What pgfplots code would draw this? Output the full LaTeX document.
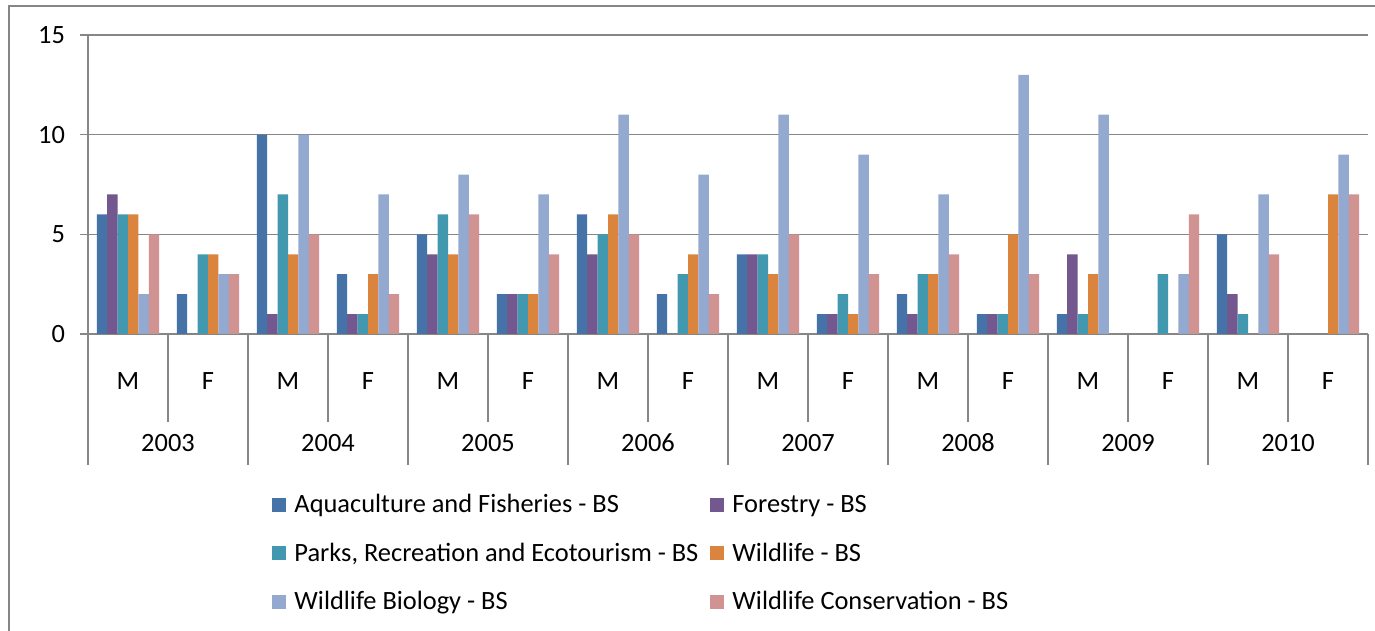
\documentclass[border=0pt]{standalone}
\usepackage{pgfplots}
\pgfplotsset{compat=1.18}
\usepackage{pgfplotstable}
\usepackage{fontspec}
\setmainfont{Carlito}
\definecolor{cA}{RGB}{69,114,167}
\definecolor{cF}{RGB}{114,88,143}
\definecolor{cP}{RGB}{65,152,175}
\definecolor{cW}{RGB}{219,132,61}
\definecolor{cB}{RGB}{147,169,207}
\definecolor{cC}{RGB}{209,147,146}
\definecolor{axgray}{RGB}{134,134,134}
\pgfplotstableread{
x A Fo P W WB WC
0  6  7 6 6 2  5
1  2  0 4 4 3  3
2  10 1 7 4 10 5
3  3  1 1 3 7  2
4  5  4 6 4 8  6
5  2  2 2 2 7  4
6  6  4 5 6 11 5
7  2  0 3 4 8  2
8  4  4 4 3 11 5
9  1  1 2 1 9  3
10 2  1 3 3 7  4
11 1  1 1 5 13 3
12 1  4 1 3 11 0
13 0  0 3 0 3  6
14 5  2 1 0 7  4
15 0  0 0 7 9  7
}\datatable
\begin{document}
\begin{tikzpicture}[font=\fontsize{13.2}{16}\selectfont]
\useasboundingbox (0,0) rectangle (687.5pt,315.5pt);
\draw[axgray, line width=1pt] (4.25pt,0pt) -- (4.25pt,312.25pt) -- (687.5pt,312.25pt);
\begin{axis}[
  at={(44pt,148.5pt)}, anchor=south west,
  scale only axis, width=640pt, height=149.5pt,
  xmin=-0.5, xmax=15.5, ymin=0, ymax=15,
  xtick=\empty, ytick={0,5,10,15},
  axis lines*=left,
  axis line style={axgray, line width=0.8pt},
  ymajorgrids, grid style={axgray, line width=0.8pt},
  tick align=outside, major tick length=4pt,
  tick style={axgray, line width=0.8pt},
  /pgf/number format/assume math mode=true,
  yticklabel style={font=\fontsize{13.2}{16}\selectfont, anchor=east, xshift=-4pt},
  clip=false,
  ybar=0pt, bar width=0.13,
  legend columns=2,
  legend cell align=left,
  legend style={at={(0.1438,-0.5216)}, anchor=north west, draw=none, fill=none,
    font=\fontsize{13.2}{16}\selectfont, row sep=9.5pt, inner sep=0pt,
    /tikz/every odd column/.append style={column sep=2pt}},
  legend image code/.code={\fill[#1,draw=none] (0pt,-3.5pt) rectangle (7pt,3.5pt);},
]
\addplot[fill=cA, draw=none] table[x=x, y=A] {\datatable};
\addplot[fill=cF, draw=none] table[x=x, y=Fo] {\datatable};
\addplot[fill=cP, draw=none] table[x=x, y=P] {\datatable};
\addplot[fill=cW, draw=none] table[x=x, y=W] {\datatable};
\addplot[fill=cB, draw=none] table[x=x, y=WB] {\datatable};
\addplot[fill=cC, draw=none] table[x=x, y=WC] {\datatable};
\legend{\makebox[206pt][l]{Aquaculture and Fisheries - BS}, Forestry - BS,
  \makebox[206pt][l]{Parks, Recreation and Ecotourism - BS}, Wildlife - BS,
  \makebox[206pt][l]{Wildlife Biology - BS}, Wildlife Conservation - BS}
% category dividers
\pgfplotsinvokeforeach{-0.5,1.5,3.5,5.5,7.5,9.5,11.5,13.5,15.5}{
  \draw[axgray, line width=0.8pt] (axis cs:#1,0) -- ++(0pt,-65.5pt);}
\pgfplotsinvokeforeach{0.5,2.5,4.5,6.5,8.5,10.5,12.5,14.5}{
  \draw[axgray, line width=0.8pt] (axis cs:#1,0) -- ++(0pt,-44pt);}
\pgfplotsinvokeforeach{0,2,4,6,8,10,12,14}{
  \node[anchor=base, inner sep=0pt] at (axis cs:#1,0) [yshift=-27.5pt] {M};}
\pgfplotsinvokeforeach{1,3,5,7,9,11,13,15}{
  \node[anchor=base, inner sep=0pt] at (axis cs:#1,0) [yshift=-27.5pt] {F};}
\node[anchor=base, inner sep=0pt] at (axis cs:0.5,0) [yshift=-59pt] {2003};
\node[anchor=base, inner sep=0pt] at (axis cs:2.5,0) [yshift=-59pt] {2004};
\node[anchor=base, inner sep=0pt] at (axis cs:4.5,0) [yshift=-59pt] {2005};
\node[anchor=base, inner sep=0pt] at (axis cs:6.5,0) [yshift=-59pt] {2006};
\node[anchor=base, inner sep=0pt] at (axis cs:8.5,0) [yshift=-59pt] {2007};
\node[anchor=base, inner sep=0pt] at (axis cs:10.5,0) [yshift=-59pt] {2008};
\node[anchor=base, inner sep=0pt] at (axis cs:12.5,0) [yshift=-59pt] {2009};
\node[anchor=base, inner sep=0pt] at (axis cs:14.5,0) [yshift=-59pt] {2010};
\end{axis}
\end{tikzpicture}
\end{document}
